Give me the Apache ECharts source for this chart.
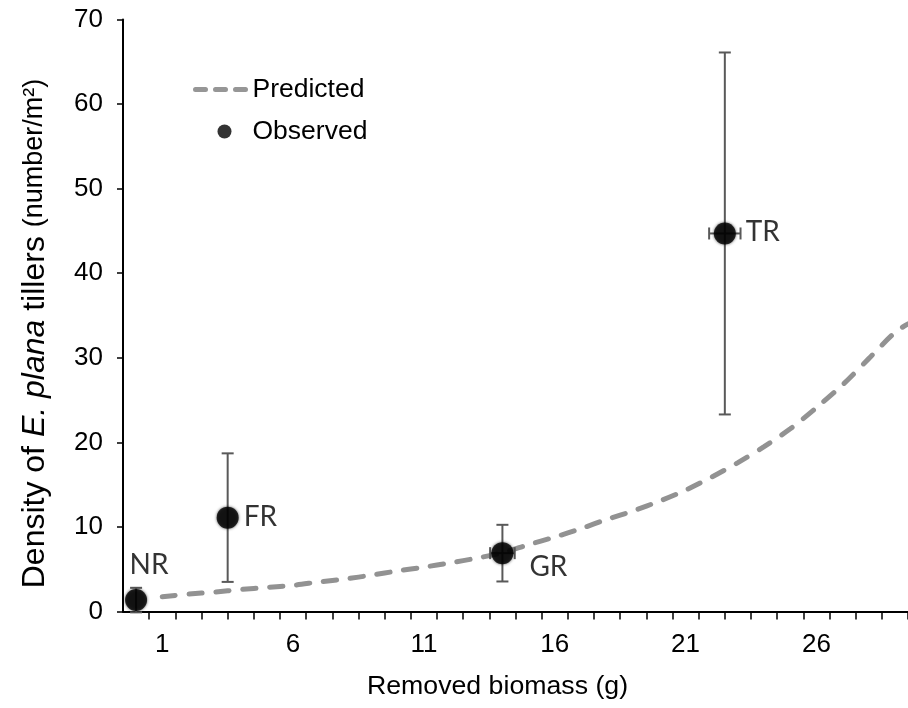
<!DOCTYPE html>
<html>
<head>
<meta charset="utf-8">
<script src="https://cdn.jsdelivr.net/npm/echarts@6/dist/echarts.min.js"></script>
<style>html,body{margin:0;padding:0;background:#fff}#c{width:908px;height:708px}</style>
</head>
<body>
<div id="c"></div>
<script>
// Observed treatments
var obsNames = ['NR', 'FR', 'GR', 'TR'];
var obsX = [0, 3.5, 14.0, 22.5];
var obsY = [1.35, 11.1, 6.9, 44.7];
var obsYErr = [1.45, 7.6, 3.35, 21.4];
var obsXErr = [0, 0, 0.47, 0.6];
// Predicted curve
var predX = [1, 2, 3, 4, 5, 6, 7, 8, 9, 10, 11, 12, 13, 14, 15, 16, 17, 18, 19, 20, 21, 22, 23, 24, 25, 26, 27, 28, 29, 29.5];
var predY = [1.75, 2.05, 2.3, 2.6, 2.85, 3.1, 3.5, 3.85, 4.3, 4.8, 5.25, 5.75, 6.3, 6.95, 7.9, 8.8, 9.8, 10.9, 11.9, 13.05, 14.35, 15.9, 17.6, 19.5, 21.6, 24.1, 26.8, 29.9, 33.0, 34.0];
// Axis labels
var xTickLabels = [1, 6, 11, 16, 21, 26];
var yTicks = [0, 10, 20, 30, 40, 50, 60, 70];

var xTickMarks = [];
for (var t = 0.5; t <= 29.5; t += 1) xTickMarks.push(t);

var labelCfg = [
  {position: 'top', offset: [13, -5]},
  {position: 'right', offset: [0, -1]},
  {position: 'right', offset: [11, 14]},
  {position: 'right', offset: [5, -1]}
];

var obsData = obsX.map(function (x, i) {
  return {
    value: [x, obsY[i]],
    name: obsNames[i],
    label: {show: true, formatter: obsNames[i], position: labelCfg[i].position, offset: labelCfg[i].offset}
  };
});
var errData = obsX.map(function (x, i) {
  return [x, obsY[i], obsYErr[i], obsXErr[i]];
});
var predData = predX.map(function (x, i) { return [x, predY[i]]; });

var chart = echarts.init(document.getElementById('c'));
var AX = 'Liberation Sans';
chart.setOption({
  animation: false,
  grid: {left: 123, right: -5, top: 19.5, bottom: 96.5, containLabel: false},
  legend: {
    orient: 'vertical', left: 188, top: 71, itemWidth: 58, itemHeight: 14, itemGap: 15,
    textStyle: {fontFamily: AX, fontSize: 26.5, color: '#000', padding: [0, 0, 0, -6]},
    data: [
      {name: 'Predicted', itemStyle: {color: 'rgba(0,0,0,0)', borderWidth: 0, opacity: 0},
        lineStyle: {type: [10, 10], cap: 'round', width: 5, color: '#969696'}},
      {name: 'Observed', itemStyle: {color: '#000', shadowBlur: 0}}
    ]
  },
  xAxis: {
    type: 'value', min: -0.5, max: 29.5,
    splitLine: {show: false},
    axisLine: {onZero: false, lineStyle: {color: '#000', width: 2}},
    axisTick: {show: true, length: 8, lineStyle: {color: '#000', width: 1.5}, customValues: xTickMarks},
    axisLabel: {customValues: xTickLabels, margin: 20, fontFamily: AX, fontSize: 26, color: '#000'},
    name: 'Removed biomass (g)', nameLocation: 'middle', nameGap: 62,
    nameTextStyle: {fontFamily: AX, fontSize: 26.7, color: '#000', padding: [0, 36, 0, 0]}
  },
  yAxis: {
    type: 'value', min: 0, max: 70, interval: 10,
    splitLine: {show: false},
    axisLine: {show: true, onZero: false, lineStyle: {color: '#000', width: 2}},
    axisTick: {show: true, length: 6, lineStyle: {color: '#000', width: 1.5}},
    axisLabel: {margin: 20, fontFamily: AX, fontSize: 26, color: '#000',
      formatter: function (v) { return yTicks.indexOf(v) >= 0 ? String(v) : ''; }},
    name: '{a|Density of }{i|E. plana}{a| tillers }{s|(number/m²)}',
    nameLocation: 'middle', nameRotate: 90, nameGap: 72,
    nameTextStyle: {
      padding: [0, 36, 0, 0],
      rich: {
        a: {fontFamily: AX, fontSize: 32, color: '#000'},
        i: {fontFamily: AX, fontSize: 32, fontStyle: 'italic', color: '#000'},
        s: {fontFamily: AX, fontSize: 27, color: '#000'}
      }
    }
  },
  series: [
    {
      name: 'Predicted', type: 'line', data: predData, smooth: 0.3,
      symbol: 'none', z: 2,
      lineStyle: {color: '#929292', width: 5, type: [13, 14], cap: 'round'},
      itemStyle: {color: '#929292'}
    },
    {
      name: 'ErrorBars', type: 'custom', data: errData, z: 3,
      renderItem: function (params, api) {
        var x = api.value(0), y = api.value(1), ye = api.value(2), xe = api.value(3);
        var top = api.coord([x, y + ye]);
        var bot = api.coord([x, y - ye]);
        var c = api.coord([x, y]);
        var st = {stroke: '#595959', lineWidth: 2};
        var cap = 6;
        var kids = [
          {type: 'line', shape: {x1: top[0], y1: top[1], x2: bot[0], y2: bot[1]}, style: st},
          {type: 'line', shape: {x1: top[0] - cap, y1: top[1], x2: top[0] + cap, y2: top[1]}, style: st},
          {type: 'line', shape: {x1: bot[0] - cap, y1: bot[1], x2: bot[0] + cap, y2: bot[1]}, style: st}
        ];
        if (xe > 0) {
          var l = api.coord([x - xe, y]);
          var r = api.coord([x + xe, y]);
          kids.push({type: 'line', shape: {x1: l[0], y1: c[1], x2: r[0], y2: c[1]}, style: st});
          kids.push({type: 'line', shape: {x1: l[0], y1: c[1] - cap, x2: l[0], y2: c[1] + cap}, style: st});
          kids.push({type: 'line', shape: {x1: r[0], y1: c[1] - cap, x2: r[0], y2: c[1] + cap}, style: st});
        }
        return {type: 'group', children: kids};
      }
    },
    {
      name: 'Observed', type: 'scatter', data: obsData, z: 4,
      symbol: 'circle', symbolSize: 22,
      itemStyle: {color: '#000', shadowBlur: 3, shadowColor: 'rgba(0,0,0,0.8)'},
      label: {fontFamily: 'Lato', fontSize: 28, color: '#000', distance: 5}
    }
  ]
});
</script>
</body>
</html>
